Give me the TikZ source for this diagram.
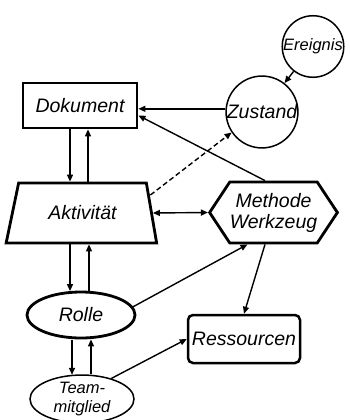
\documentclass[tikz,border=0pt]{standalone}
\usepackage{fontspec}
\setmainfont{Liberation Sans}
\usetikzlibrary{shapes.geometric,shapes.symbols,arrows.meta,calc}
\begin{document}
\begin{tikzpicture}[x=1pt,y=-1pt,
  lbl/.style={font=\fontsize{19.5}{21}\selectfont\itshape, inner sep=0pt, align=center},
  slbl/.style={font=\fontsize{16.5}{19}\selectfont\itshape, inner sep=0pt, align=center},
  heavy/.style={draw, line width=2.8pt},
  light/.style={draw, line width=1.5pt},
  conn/.style={line width=1.4pt, -{Triangle[length=7pt,width=6pt]}},
  bconn/.style={line width=1.4pt, {Triangle[length=7pt,width=6pt]}-{Triangle[length=7pt,width=6pt]}}]
\useasboundingbox (0,0) rectangle (349,420);
\node[heavy, lbl, rectangle, minimum width=114pt, minimum height=45pt] (dok) at (80,105.5) {Dokument};
\node[light, slbl, circle, minimum size=59pt] (ereig) at (313,46.5) {Ereignis};
\node[light, lbl, circle, minimum size=70pt] (zust) at (262,112) {Zustand};
\node[heavy, lbl, trapezium, trapezium stretches=true, trapezium left angle=65, trapezium right angle=69, minimum width=151pt, minimum height=60pt] (akt) at (82.5,213) {\raisebox{-4pt}{Aktivität}};
\node[heavy, lbl, signal, signal to=west and east, signal pointer angle=113, minimum width=117pt, minimum height=61pt, inner xsep=0pt] (meth) at (273.5,212.5) {Methode\\Werkzeug};
\node[heavy, lbl, ellipse, minimum width=108pt, minimum height=46pt] (rolle) at (81,315) {Rolle};
\node[draw, line width=2.5pt, rounded corners=5pt, lbl, minimum width=112pt, minimum height=48pt] (res) at (244,339) {Ressourcen};
\node[light, slbl, ellipse, minimum width=104pt, minimum height=42pt] (team) at (82,399) {\raisebox{-9pt}{\shortstack{Team-\\[4pt]mitglied}}};
% connectors
\draw[conn] (zust.175) -- (zust.175 -| dok.east);
\draw[conn] (ereig) -- (zust);
\draw[conn] ([xshift=-8.5pt]meth.north) -- ([yshift=-10pt]dok.east);
\draw[conn] (dok.south -| 70,0) -- (akt.north -| 70,0);
\draw[conn] (akt.north -| 88,0) -- (dok.south -| 88,0);
\draw[conn, dash pattern=on 5pt off 3pt] ([shift={(-2.5pt,18pt)}]akt.east) -- (zust.214);
\draw[bconn] (akt.east) -- (meth.west);
\draw[conn] (akt.south -| 70,0) -- ([yshift=-0.5pt]rolle.north -| 70,0);
\draw[conn] (rolle.north -| 89,0) -- (akt.south -| 89,0);
\draw[conn] (rolle.9) -- ([xshift=-26pt]meth.south);
\draw[conn] ([xshift=-8.5pt]meth.south) -- (res.north);
\draw[conn] ([yshift=-0.5pt]rolle.south -| 72,0) -- ([yshift=-0.5pt]team.north -| 72,0);
\draw[conn] (team.north -| 91,0) -- (rolle.south -| 91,0);
\draw[conn] (team.35) -- (res.west);
\end{tikzpicture}
\end{document}
